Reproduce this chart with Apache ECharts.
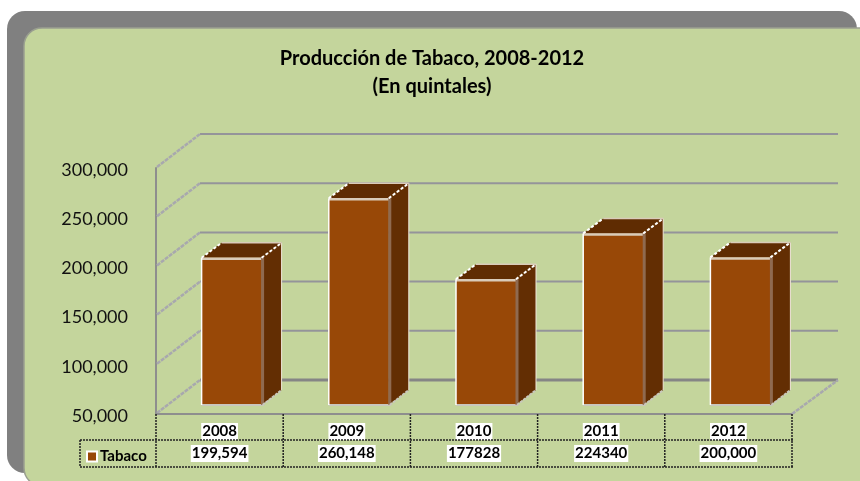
<!DOCTYPE html>
<html>
<head>
<meta charset="utf-8">
<style>html,body{margin:0;padding:0;background:#fff}#main{width:860px;height:481px}</style>
<script src="https://cdn.jsdelivr.net/npm/echarts@6/dist/echarts.min.js"></script>
</head>
<body>
<div id="main"></div>
<script>
var years = ['2008', '2009', '2010', '2011', '2012'];
var tableLabels = ['199,594', '260,148', '177828', '224340', '200,000'];
var tabaco = [199594, 260148, 177828, 224340, 200000];
var ticks = [50000, 100000, 150000, 200000, 250000, 300000];

var font = 'Lato';
var wallDx = 44, wallDy = -34;   // back wall offset from the front plane

function line(x1, y1, x2, y2, style) {
  return { type: 'line', shape: { x1: x1, y1: y1, x2: x2, y2: y2 }, style: style };
}
function poly(points, fill) {
  return { type: 'polygon', shape: { points: points }, style: { fill: fill } };
}

// back wall grid lines and the dashed side wall lines
function renderWall(params, api) {
  var cs = params.coordSys;
  var y = api.coord([0, api.value(0)])[1];
  var bottom = api.value(0) === ticks[0];
  var children = [
    line(cs.x + wallDx, y + wallDy, cs.x + cs.width + wallDx + 2, y + wallDy, { stroke: bottom ? '#858585' : '#94949a', lineWidth: bottom ? 3 : 2 }),
    line(cs.x + 1, y - 1, cs.x + wallDx, y + wallDy, { stroke: '#a8a8ae', lineWidth: 2.5, lineDash: [4, 1] })
  ];
  if (bottom) {
    children.push(line(cs.x, y, cs.x + cs.width, y, { stroke: '#8e8e8e', lineWidth: 2 }));
    children.push(line(cs.x + cs.width, y, cs.x + cs.width + wallDx + 2, y + wallDy, { stroke: '#a8a8ae', lineWidth: 2.5, lineDash: [4, 1] }));
  }
  return { type: 'group', children: children };
}

function renderBar(params, api) {
  var top = api.coord([api.value(0), api.value(1)]);
  var base = api.coord([api.value(0), 50000]);
  var l = top[0] - 18, r = top[0] + 42, t = top[1] - 9, b = base[1] - 9;
  var dx = 20, dy = -15;
  return {
    type: 'group',
    children: [
      poly([[l, t], [l + dx, t + dy], [r + dx, t + dy], [r, t]], '#5f2c02'),
      poly([[r, t], [r + dx, t + dy], [r + dx, b + dy], [r, b]], '#632e03'),
      { type: 'rect', shape: { x: l, y: t, width: r - l, height: b - t }, style: { fill: '#984807' } },
      line(l, t + 1, r + 1, t + 1, { stroke: '#d9cbb9', lineWidth: 2.5 }),
      line(l, b, r + 2, b, { stroke: '#c9c7bc', lineWidth: 2 }),
      line(l, t, l, b, { stroke: '#ffffff', lineWidth: 1.5 }),
      line(r + 1, t, r + 1, b, { stroke: '#8f6a50', lineWidth: 3 }),
      line(r + dx, t + dy, r + dx, b + dy, { stroke: '#f0e6da', lineWidth: 1 }),
      line(l, t, l + dx, t + dy, { stroke: '#ffffff', lineWidth: 2, lineDash: [3, 2] }),
      line(r, t, r + dx, t + dy, { stroke: '#ffffff', lineWidth: 2, lineDash: [3, 2] }),
      line(l + dx, t + dy, r + dx, t + dy, { stroke: '#d9cbb9', lineWidth: 1.5 }),
      line(r + 1, b, r + dx, b + dy, { stroke: '#c9c7bc', lineWidth: 2, lineDash: [3, 1] })
    ]
  };
}

// the data table under the plot, one cell per category
function renderTable(params, api) {
  var cs = params.coordSys;
  var i = api.value(0);
  var step = cs.width / years.length;
  var y0 = cs.y + cs.height;
  var dotted = { stroke: '#222222', lineWidth: 1.5, lineDash: [2, 1] };
  var x = cs.x + step * (i + 1);
  var children = [
    line(x, y0, x, y0 + 53, dotted)
  ];
  if (i === 0) {
    children.push(line(cs.x, y0, cs.x, y0 + 53, dotted));
    children.push(line(80, y0 + 26, cs.x + cs.width + 1, y0 + 26, dotted));
    children.push(line(80, y0 + 53, cs.x + cs.width + 1, y0 + 53, dotted));
    children.push(line(80, y0 + 26, 80, y0 + 53, dotted));
  }
  return { type: 'group', children: children };
}

var option = {
  animation: false,
  textStyle: { fontFamily: font },
  graphic: [
    { type: 'rect', z: -10, shape: { x: 7, y: 11, width: 850, height: 462, r: 18 }, style: { fill: '#808080' } },
    { type: 'rect', z: -9, shape: { x: 24, y: 28, width: 860, height: 458, r: 18 }, style: { fill: '#c4d59c', stroke: '#9a9f90', lineWidth: 1.5 } }
  ],
  title: {
    text: 'Producción de Tabaco, 2008-2012\n(En quintales)',
    left: 427,
    top: 40,
    textAlign: 'center',
    textStyle: { fontFamily: font, fontSize: 20, fontWeight: 'bold', color: '#000', lineHeight: 28 }
  },
  legend: {
    data: ['Tabaco'],
    left: 81,
    top: 444,
    itemWidth: 10,
    itemHeight: 10,
    itemGap: 2,
    icon: 'rect',
    textStyle: { fontFamily: font, fontSize: 15, fontWeight: 'bold', color: '#000', padding: [0, 0, 0, -2] }
  },
  grid: { left: 156, right: 68, top: 168, bottom: 67 },
  xAxis: [{
    type: 'category',
    data: years,
    axisLine: { show: false },
    axisTick: { show: false },
    axisLabel: { margin: 9, fontFamily: font, fontSize: 15, fontWeight: 'bold', color: '#000', backgroundColor: '#fff', padding: [1, 1, 1, 1] }
  }, {
    type: 'category',
    position: 'bottom',
    offset: 22,
    data: tableLabels,
    axisLine: { show: false },
    axisTick: { show: false },
    axisLabel: { margin: 9, fontFamily: font, fontSize: 15, fontWeight: 'bold', color: '#000', backgroundColor: '#fff', padding: [1, 1, 1, 1] }
  }],
  yAxis: {
    type: 'value',
    min: 50000,
    max: 300000,
    interval: 50000,
    axisLine: { show: true, lineStyle: { color: '#8e8e8e', width: 2 } },
    axisTick: { show: false },
    splitLine: { show: false },
    axisLabel: {
      margin: 28,
      fontFamily: font,
      fontSize: 18,
      color: '#111',
      verticalAlign: 'top',
      lineHeight: 4,
      formatter: function (v) { return v.toLocaleString('en-US'); }
    }
  },
  series: [
    { type: 'custom', name: 'wall', silent: true, z: 1, renderItem: renderWall, data: ticks, encode: { y: 0 }, clip: false },
    { type: 'custom', name: 'table', silent: true, z: 1, renderItem: renderTable, data: years.map(function (y, i) { return [i]; }), clip: false },
    {
      type: 'custom',
      name: 'Tabaco',
      z: 2,
      renderItem: renderBar,
      itemStyle: { color: '#984807', borderColor: '#fff', borderWidth: 1 },
      data: tabaco.map(function (v, i) { return [i, v]; }),
      encode: { x: 0, y: 1 },
      clip: false
    }
  ]
};

echarts.init(document.getElementById('main')).setOption(option);
</script>
</body>
</html>
